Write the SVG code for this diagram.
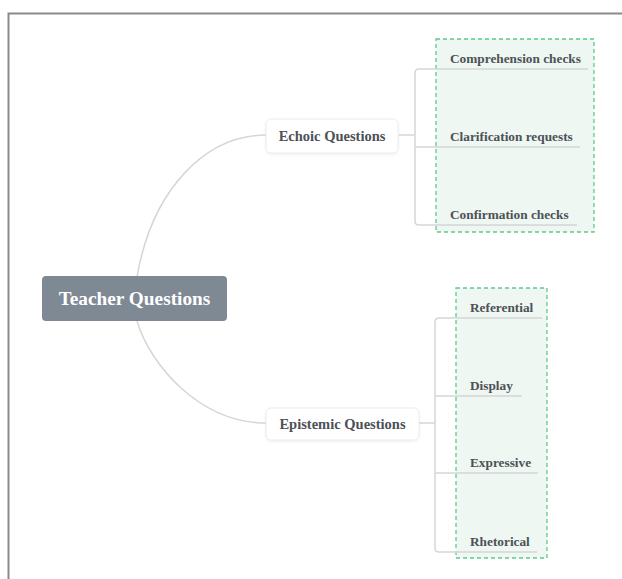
<svg xmlns="http://www.w3.org/2000/svg" width="622" height="579" viewBox="0 0 622 579">
<defs>
<style>
.frame{fill:none;stroke:#8a8a8a;stroke-width:2}
.conn{fill:none;stroke:#d6d6d6;stroke-width:1.5}
.sub{fill:#fff;stroke:#ececec;stroke-width:1}
.grp{fill:#eef7f1;stroke:#5ec98c;stroke-width:1.3;stroke-dasharray:4 3}
.t{font-family:"Liberation Serif","Times New Roman",serif;font-weight:bold;fill:#4d5157}
.t13{font-size:13.3px}
.t14{font-size:14.5px}
.root{font-family:"Liberation Serif","Times New Roman",serif;font-weight:bold;font-size:19.3px;fill:#ffffff}
</style>
<filter id="sh" x="-10%" y="-20%" width="120%" height="150%">
<feDropShadow dx="0" dy="1" stdDeviation="1.2" flood-color="#000" flood-opacity="0.08"/>
</filter>
</defs>
<rect width="622" height="579" fill="#ffffff"/>
<path class="frame" d="M8.5,579 V13.5 H622"/>
<g id="groups">
<rect class="grp" x="436" y="39" width="158" height="193"/>
<rect class="grp" x="456" y="288" width="91" height="270"/>
</g>
<g id="connectors">
<path class="conn" d="M137,277 C152,190 205,135 266,135"/>
<path class="conn" d="M137,321 C150,365 200,423 266,423"/>
<path class="conn" d="M399,135 H415"/>
<path class="conn" d="M588,69 H419 Q415,69 415,73 V221 Q415,225 419,225 H577"/>
<path class="conn" d="M415,147 H580"/>
<path class="conn" d="M419,423 H435"/>
<path class="conn" d="M542,318 H439 Q435,318 435,322 V548 Q435,552 439,552 H537"/>
<path class="conn" d="M435,396 H522"/>
<path class="conn" d="M435,473 H538"/>
</g>
<g id="root">
<rect x="42" y="276" width="185" height="45" rx="4" fill="#7f8994"/>
<text class="root" x="134.5" y="305" text-anchor="middle">Teacher Questions</text>
</g>
<g id="echoic">
<rect class="sub" x="266" y="119" width="132" height="34" rx="5" filter="url(#sh)"/>
<text class="t t14" x="332" y="141" text-anchor="middle">Echoic Questions</text>
</g>
<g id="epistemic">
<rect class="sub" x="266" y="408" width="153" height="32" rx="5" filter="url(#sh)"/>
<text class="t t14" x="342.5" y="429" text-anchor="middle">Epistemic Questions</text>
</g>
<g id="comprehension"><text class="t t13" x="450" y="63">Comprehension checks</text></g>
<g id="clarification"><text class="t t13" x="450" y="141">Clarification requests</text></g>
<g id="confirmation"><text class="t t13" x="450" y="219">Confirmation checks</text></g>
<g id="referential"><text class="t t13" x="470" y="312">Referential</text></g>
<g id="display"><text class="t t13" x="470" y="390">Display</text></g>
<g id="expressive"><text class="t t13" x="470" y="467">Expressive</text></g>
<g id="rhetorical"><text class="t t13" x="470" y="546">Rhetorical</text></g>
</svg>
